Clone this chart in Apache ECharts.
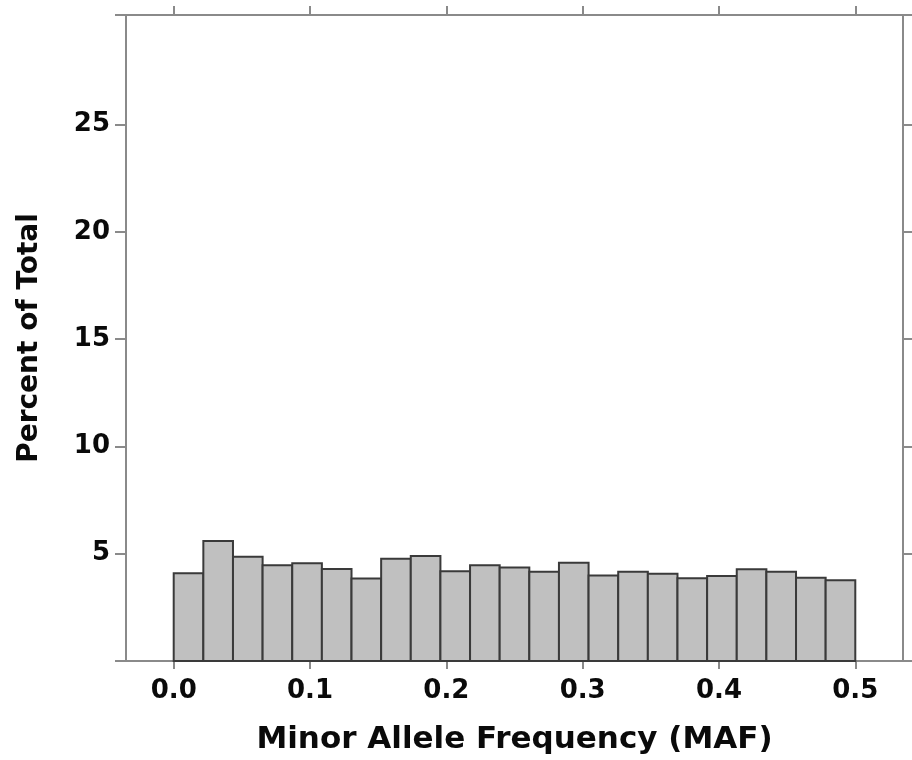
<!DOCTYPE html>
<html>
<head>
<meta charset="utf-8">
<script src="https://cdn.jsdelivr.net/npm/echarts@6/dist/echarts.min.js"></script>
<style>
html,body{margin:0;padding:0;background:#fff;overflow:hidden;width:912px;height:760px;}
#chart{width:912px;height:760px;}
</style>
</head>
<body>
<div id="chart"></div>
<script>
// Histogram: 23 equal bins spanning MAF 0.0 .. 0.5
var binCount = 23;
var binRange = [0, 0.5];
var percent = [4.09, 5.59, 4.86, 4.46, 4.55, 4.29, 3.84, 4.77, 4.89, 4.18, 4.46, 4.36,
               4.16, 4.58, 3.98, 4.16, 4.07, 3.85, 3.96, 4.27, 4.16, 3.88, 3.76];
var xTicks = [0, 0.1, 0.2, 0.3, 0.4, 0.5];
var yTickLabels = [5, 10, 15, 20, 25];
var yTicks = [0, 5, 10, 15, 20, 25, 30.1];
var xRange = [-0.035, 0.535];
var yRange = [0, 30.1];

var binWidth = (binRange[1] - binRange[0]) / binCount;
var histData = percent.map(function (v, i) {
  return [binRange[0] + i * binWidth, binRange[0] + (i + 1) * binWidth, v];
});

var FONT = 'DejaVu Sans';
var lineStyle = { color: '#8a8a8a', width: 2 };

var chart = echarts.init(document.getElementById('chart'), null, { renderer: 'canvas', width: 912, height: 760 });
chart.setOption({
  animation: false,
  backgroundColor: '#ffffff',
  grid: { left: 126, right: 9, top: 15, bottom: 97, containLabel: false },
  xAxis: [{
    type: 'value', position: 'bottom', min: xRange[0], max: xRange[1],
    axisLine: { show: true, onZero: false, lineStyle: lineStyle },
    axisTick: { show: true, inside: false, length: 8, customValues: xTicks, lineStyle: lineStyle },
    axisLabel: { show: true, customValues: xTicks, margin: 17,
      formatter: function (v) { return v.toFixed(1); },
      fontFamily: FONT, fontWeight: 'bold', fontSize: 26, color: '#0a0a0a' },
    splitLine: { show: false },
    name: 'Minor Allele Frequency (MAF)', nameLocation: 'middle', nameGap: 63,
    nameTextStyle: { fontFamily: FONT, fontWeight: 'bold', fontSize: 31, color: '#0a0a0a' }
  }, {
    type: 'value', position: 'top', min: xRange[0], max: xRange[1],
    axisLine: { show: true, onZero: false, lineStyle: lineStyle },
    axisTick: { show: true, inside: false, length: 9, customValues: xTicks, lineStyle: lineStyle },
    axisLabel: { show: false },
    splitLine: { show: false }
  }],
  yAxis: [{
    type: 'value', position: 'left', min: yRange[0], max: yRange[1],
    axisLine: { show: true, onZero: false, lineStyle: lineStyle },
    axisTick: { show: true, inside: false, length: 11, customValues: yTicks, lineStyle: lineStyle },
    axisLabel: { show: true, customValues: yTickLabels, margin: 16,
      fontFamily: FONT, fontWeight: 'bold', fontSize: 26, color: '#0a0a0a' },
    splitLine: { show: false },
    name: 'Percent of Total', nameLocation: 'middle', nameGap: 82,
    nameTextStyle: { fontFamily: FONT, fontWeight: 'bold', fontSize: 28, color: '#0a0a0a' }
  }, {
    type: 'value', position: 'right', min: yRange[0], max: yRange[1],
    axisLine: { show: true, onZero: false, lineStyle: lineStyle },
    axisTick: { show: true, inside: false, length: 9, customValues: yTicks, lineStyle: lineStyle },
    axisLabel: { show: false },
    splitLine: { show: false }
  }],
  series: [{
    type: 'custom',
    xAxisIndex: 0, yAxisIndex: 0,
    data: histData,
    renderItem: function (params, api) {
      var p0 = api.coord([api.value(0), 0]);
      var p1 = api.coord([api.value(1), api.value(2)]);
      return {
        type: 'rect',
        shape: { x: p0[0], y: p1[1], width: p1[0] - p0[0], height: p0[1] - p1[1] },
        style: { fill: '#c0c0c0', stroke: '#3a3a3a', lineWidth: 2 }
      };
    }
  }]
});
</script>
</body>
</html>
